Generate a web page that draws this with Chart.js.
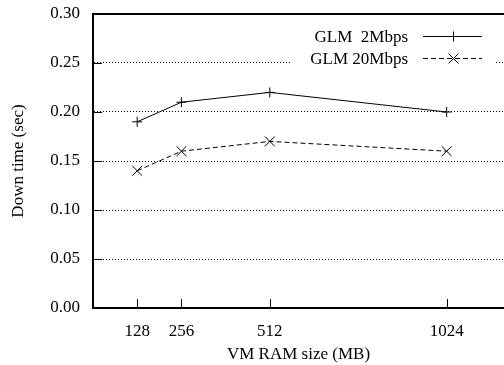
<!DOCTYPE html>
<html>
<head>
<meta charset="utf-8">
<script src="https://cdn.jsdelivr.net/npm/chart.js@4/dist/chart.umd.min.js"></script>
<style>
    html, body { margin: 0; padding: 0; background: #fff; overflow: hidden; }
    #wrap { width: 504px; height: 365px; }
</style>
</head>
<body>
<div id="wrap"><canvas id="chart"></canvas></div>
<script>
// values
const ram_sizes = [128, 256, 512, 1024]
const glm_2mbps = [0.19, 0.21, 0.22, 0.20]
const glm_20mbps = [0.14, 0.16, 0.17, 0.16]
const series_names = ['GLM  2Mbps', 'GLM 20Mbps']
const y_ticks = [0, 0.05, 0.10, 0.15, 0.20, 0.25, 0.30]
const x_range = [0, 1190]

const points = values => ram_sizes.map((x, i) => ({x: x, y: values[i]}))

const FAMILY = '"Liberation Serif", "DejaVu Serif", serif'
const text_font = {family: FAMILY, size: 17}

Chart.defaults.font.family = FAMILY
Chart.defaults.font.size = 17
Chart.defaults.color = '#000'

// gnuplot style frame: top border plus inward tick marks
const frame_ticks = {
    id: 'frame_ticks',
    afterDraw(chart){
        const {ctx, chartArea: a, scales: {x, y}} = chart
        ctx.save()
        ctx.strokeStyle = '#000'
        ctx.lineWidth = 2
        ctx.beginPath()
        ctx.moveTo(a.left - 1, a.top)
        ctx.lineTo(a.right, a.top)
        ctx.stroke()
        ctx.lineWidth = 1
        ctx.beginPath()
        y_ticks.forEach(v => {
            const py = Math.round(y.getPixelForValue(v)) + 0.5
            ctx.moveTo(a.left, py)
            ctx.lineTo(a.left + 9, py)
        })
        ram_sizes.forEach(v => {
            const px = Math.round(x.getPixelForValue(v)) + 0.5
            ctx.moveTo(px, a.bottom)
            ctx.lineTo(px, a.bottom - 9)
        })
        ctx.stroke()
        ctx.restore()
    }
}

// key in the top right corner: text first, then the line sample
const key_box = {
    id: 'key_box',
    afterDraw(chart){
        const {ctx, chartArea: a} = chart
        const line_end = a.right - 22
        const line_start = line_end - 59
        ctx.save()
        ctx.fillStyle = '#fff'
        ctx.fillRect(line_start - 131, a.top + 2, 204, 54)
        ctx.font = `${text_font.size}px ${FAMILY}`
        ctx.textAlign = 'right'
        ctx.textBaseline = 'middle'
        chart.data.datasets.forEach((ds, i) => {
            const row_y = Math.round(a.top + 22 + i * 21.5) + 0.5
            ctx.fillStyle = '#000'
            ctx.fillText(ds.label, line_start - 15, row_y + 1)
            ctx.strokeStyle = ds.borderColor
            ctx.lineWidth = 1
            ctx.setLineDash(ds.borderDash || [])
            ctx.beginPath()
            ctx.moveTo(line_start, row_y)
            ctx.lineTo(line_end, row_y)
            ctx.stroke()
            ctx.setLineDash([])
            Chart.helpers.drawPoint(ctx, {pointStyle: ds.pointStyle, radius: ds.pointRadius, borderWidth: 1, rotation: 0},
                Math.round((line_start + line_end) / 2) + 0.5, row_y)
        })
        ctx.restore()
    }
}

const chart = new Chart(document.getElementById('chart'), {
    type: 'line',
    data: {
        datasets: [
            {
                label: series_names[0],
                data: points(glm_2mbps),
                borderColor: '#000',
                backgroundColor: '#000',
                borderWidth: 1,
                pointStyle: 'cross',
                pointRadius: 5,
                pointBorderWidth: 1,
                tension: 0
            },
            {
                label: series_names[1],
                data: points(glm_20mbps),
                borderColor: '#000',
                backgroundColor: '#000',
                borderWidth: 1,
                borderDash: [5, 3],
                pointStyle: 'crossRot',
                pointRadius: 7,
                pointBorderWidth: 1,
                tension: 0
            }
        ]
    },
    options: {
        responsive: true,
        maintainAspectRatio: false,
        animation: false,
        layout: {autoPadding: false, padding: {top: 14, right: 0, bottom: 0, left: 0}},
        plugins: {
            legend: {display: false},
            tooltip: {enabled: false}
        },
        scales: {
            x: {
                type: 'linear',
                min: x_range[0],
                max: x_range[1],
                afterBuildTicks: scale => { scale.ticks = ram_sizes.map(v => ({value: v})) },
                afterFit: scale => {
                    scale.height = 57
                    scale.paddingLeft = 0
                    scale.paddingRight = 0
                },
                ticks: {font: text_font, padding: 13, maxRotation: 0, autoSkip: false, callback: v => String(v)},
                grid: {display: false, drawTicks: false},
                border: {display: true, color: '#000', width: 2},
                title: {display: true, text: 'VM RAM size (MB)', font: text_font, padding: {top: 0, bottom: 0}}
            },
            y: {
                min: 0,
                max: 0.3,
                afterBuildTicks: scale => { scale.ticks = y_ticks.map(v => ({value: v})) },
                afterFit: scale => {
                    scale.width = 93
                    scale.paddingTop = 0
                    scale.paddingBottom = 0
                },
                ticks: {font: text_font, padding: 13, callback: v => v.toFixed(2)},
                grid: {
                    drawTicks: false,
                    lineWidth: 1,
                    color: c => (c.tick && (c.tick.value <= 0 || c.tick.value >= 0.3)) ? 'rgba(0,0,0,0)' : '#000'
                },
                border: {display: true, color: '#000', width: 2, dash: [1, 2]},
                title: {display: true, text: 'Down time (sec)', font: text_font, padding: {top: 8, bottom: 0}}
            }
        }
    },
    plugins: [frame_ticks, key_box]
})
</script>
</body>
</html>
